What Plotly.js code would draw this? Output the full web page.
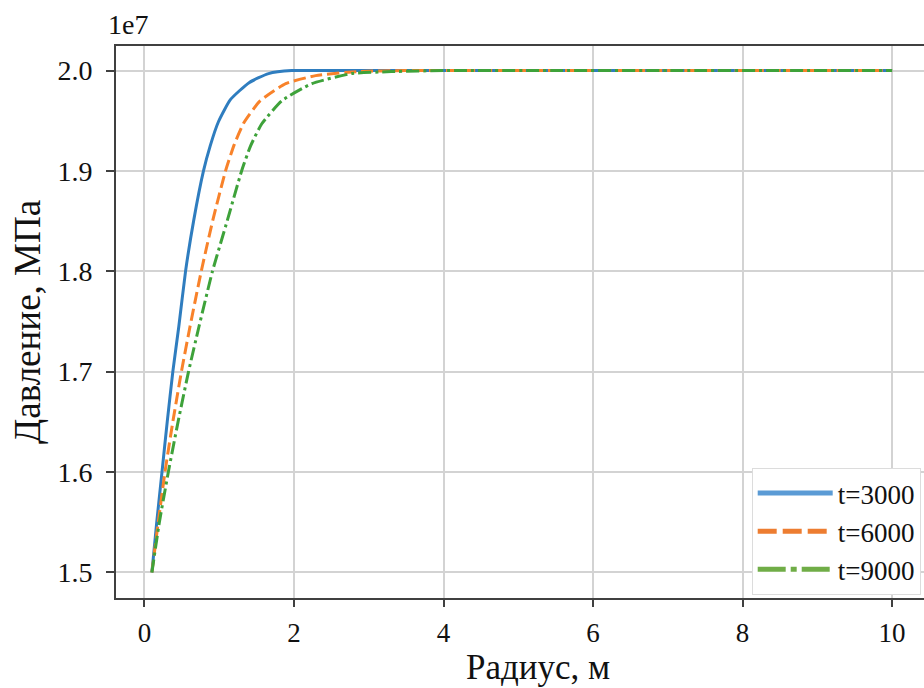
<!DOCTYPE html>
<html>
<head>
<meta charset="utf-8">
<script src="https://cdn.plot.ly/plotly-3.0.1.min.js"></script>
<style>
html, body { margin: 0; padding: 0; overflow: hidden; background: #fff; }
#chart { width: 960px; height: 688px; }
</style>
</head>
<body>
<div id="chart"></div>
<script>
// Radius, m  and pressure (units of 1e7 Pa)
const r3000 = [0.1, 0.165, 0.235, 0.305, 0.38, 0.46, 0.55, 0.66, 0.79, 0.88, 0.99, 1.15, 1.40, 1.66, 1.97, 2.5, 3.5, 5, 7.5, 10];
const p3000 = [1.5, 1.55, 1.6, 1.65, 1.7, 1.745, 1.8, 1.851, 1.9, 1.925, 1.949, 1.971, 1.988, 1.997, 2.0, 2.0, 2.0, 2.0, 2.0, 2.0];

const r6000 = [0.1, 0.185, 0.275, 0.38, 0.495, 0.61, 0.76, 0.915, 1.085, 1.20, 1.33, 1.55, 1.89, 2.29, 2.85, 3.5, 5, 7.5, 10];
const p6000 = [1.5, 1.55, 1.6, 1.65, 1.7, 1.745, 1.8, 1.851, 1.9, 1.926, 1.948, 1.970, 1.987, 1.995, 1.999, 2.0, 2.0, 2.0, 2.0];

const r9000 = [0.1, 0.20, 0.32, 0.45, 0.59, 0.73, 0.91, 1.11, 1.30, 1.42, 1.57, 1.84, 2.24, 2.77, 3.3, 4.0, 5.5, 7.5, 10];
const p9000 = [1.5, 1.55, 1.6, 1.65, 1.7, 1.745, 1.8, 1.851, 1.9, 1.925, 1.947, 1.970, 1.987, 1.997, 1.999, 2.0, 2.0, 2.0, 2.0];

const seriesNames = ["t=3000", "t=6000", "t=9000"];
const xTicks = [0, 2, 4, 6, 8, 10];
const yTicks = [1.5, 1.6, 1.7, 1.8, 1.9, 2.0];

const FONT = "Liberation Serif";
const lineColors = ["#2f7dbf", "#f8822a", "#3ea23a"];
const legendColors = ["#5b9bd5", "#ed7d31", "#70ad47"];
const SM = 0.5;

const traces = [
  {x: r3000, y: p3000, mode: "lines", line: {color: lineColors[0], width: 3, shape: "spline", smoothing: SM}, showlegend: false, name: seriesNames[0]},
  {x: r6000, y: p6000, mode: "lines", line: {color: lineColors[1], width: 3, dash: "12px,5px", shape: "spline", smoothing: SM}, showlegend: false, name: seriesNames[1]},
  {x: r9000, y: p9000, mode: "lines", line: {color: lineColors[2], width: 3, dash: "13px,4px,3px,4px", shape: "spline", smoothing: SM}, showlegend: false, name: seriesNames[2]},
  {x: [null], y: [null], mode: "lines", line: {color: legendColors[0], width: 5}, name: seriesNames[0]},
  {x: [null], y: [null], mode: "lines", line: {color: legendColors[1], width: 5, dash: "19px,6px"}, name: seriesNames[1]},
  {x: [null], y: [null], mode: "lines", line: {color: legendColors[2], width: 5, dash: "28px,5px,6px,5px"}, name: seriesNames[2]}
];

const layout = {
  width: 960,
  height: 688,
  margin: {l: 116, r: 29, t: 46, b: 90},
  paper_bgcolor: "#ffffff",
  plot_bgcolor: "#ffffff",
  font: {family: FONT, color: "#111111", size: 28},
  xaxis: {
    range: [-0.38, 10.52],
    tickvals: xTicks,
    ticktext: xTicks.map(String),
    showgrid: true, gridcolor: "#d3d3d3", gridwidth: 2,
    zeroline: false,
    showline: true, linecolor: "#404040", linewidth: 2, mirror: true,
    ticks: "outside", ticklen: 7, tickwidth: 2, tickcolor: "#404040",
    tickfont: {family: FONT, size: 27, color: "#111111"},
    ticklabelstandoff: 3
  },
  yaxis: {
    range: [1.4745, 2.0245],
    tickvals: yTicks,
    ticktext: yTicks.map(v => v.toFixed(1)),
    showgrid: true, gridcolor: "#d3d3d3", gridwidth: 2,
    zeroline: false,
    showline: true, linecolor: "#404040", linewidth: 2, mirror: true,
    ticks: "outside", ticklen: 8, tickwidth: 2, tickcolor: "#404040",
    tickfont: {family: FONT, size: 28, color: "#111111"},
    ticklabelstandoff: 8
  },
  legend: {
    x: 0.78, y: (598 - 595) / 552, xanchor: "left", yanchor: "bottom",
    bgcolor: "#ffffff", bordercolor: "#dcdcdc", borderwidth: 1,
    font: {family: FONT, size: 27, color: "#111111"},
    itemwidth: 75, tracegroupgap: 0
  },
  annotations: [
    {text: "Радиус, м", xref: "paper", yref: "paper", x: (538 - 116) / 815, y: (598 - 667) / 552,
     xanchor: "center", yanchor: "middle", showarrow: false, borderpad: 0, font: {family: FONT, size: 35, color: "#111111"}},
    {text: "Давление, МПа", xref: "paper", yref: "paper", x: (27 - 116) / 815, y: 0.5, textangle: -90,
     xanchor: "center", yanchor: "middle", showarrow: false, font: {family: FONT, size: 37, color: "#111111"}},
    {text: "1e7", xref: "paper", yref: "paper", x: (106 - 116) / 815, y: (598 - 24) / 552,
     xanchor: "left", yanchor: "middle", showarrow: false, font: {family: FONT, size: 28, color: "#111111"}}
  ]
};

Plotly.newPlot("chart", traces, layout, {displayModeBar: false, staticPlot: true});
</script>
</body>
</html>
